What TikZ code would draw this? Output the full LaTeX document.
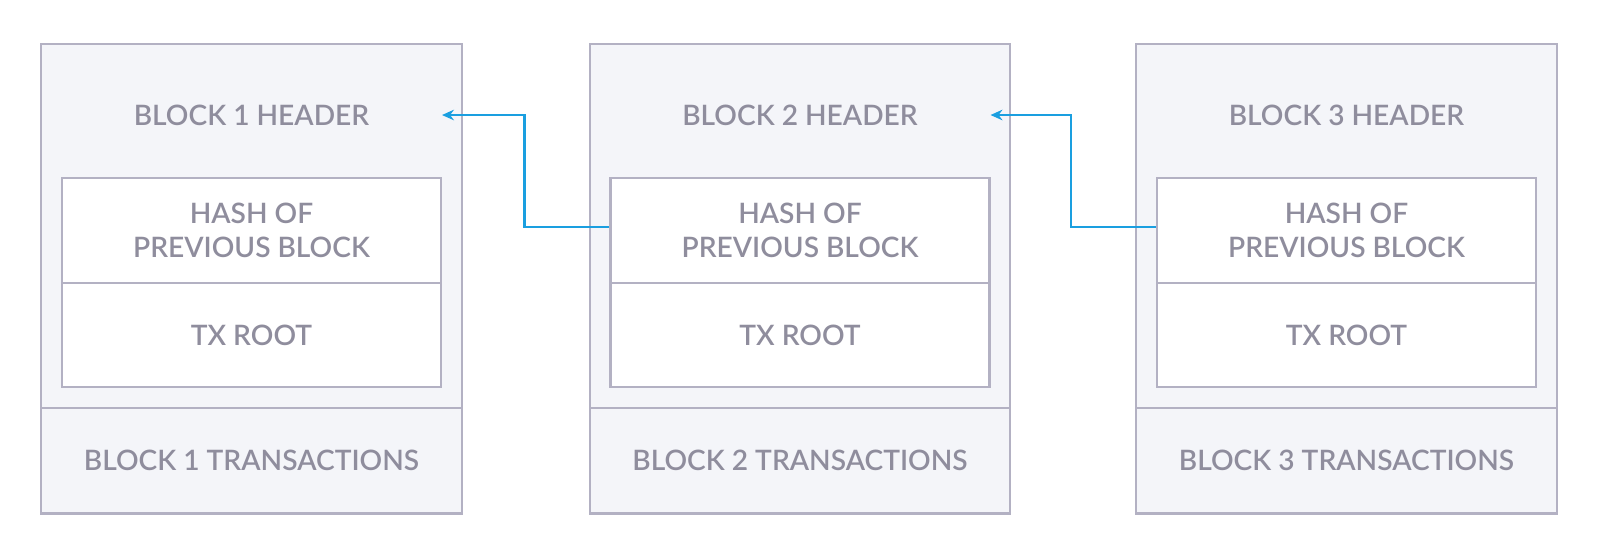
\documentclass[tikz,border=0pt]{standalone}
\usepackage{fontspec}
\setmainfont{Lato}
\newfontfamily\blkfont{Lato Semibold}
\usepackage{tikz}
\usetikzlibrary{positioning,arrows.meta}

\definecolor{blkfill}{HTML}{F4F5F9}
\definecolor{blkline}{HTML}{B3B1C3}
\definecolor{blktext}{HTML}{8F8D9D}
\definecolor{linkblue}{HTML}{1A9FE0}

\tikzset{
  blk/.style={draw=blkline, fill=blkfill, line width=0.6pt, minimum width=4.205cm, inner sep=0pt},
  cell/.style={draw=blkline, fill=white, line width=0.6pt, minimum width=3.787cm, inner sep=0pt, align=center},
  lbl/.style={text=blktext, font=\blkfont\fontsize{8}{9.5}\selectfont},
  link/.style={draw=linkblue, line width=0.6pt, -{Stealth[length=3.4pt,width=3pt]}}
}

\begin{document}
\begin{tikzpicture}[x=0.01cm,y=-0.01cm]
\useasboundingbox (0,0) rectangle (1608,553);

% block 1
\node[blk, minimum height=4.693cm] (blk1) at (251.5,278.7) {};
\node[blk, lbl, minimum height=1.05cm] (tx1) at (251.5,460.8) {BLOCK 1 TRANSACTIONS};
\node[lbl] (hdr1) at (251.5,115) {BLOCK 1 HEADER};
\node[cell, lbl, minimum height=1.053cm] (hash1) at (251.5,230.3) {HASH OF\\PREVIOUS BLOCK};
\node[cell, lbl, minimum height=1.04cm] (root1) at (251.5,335) {TX ROOT};

% block 2
\node[blk, minimum height=4.693cm] (blk2) at (800,278.7) {};
\node[blk, lbl, minimum height=1.05cm] (tx2) at (800,460.8) {BLOCK 2 TRANSACTIONS};
\node[lbl] (hdr2) at (800,115) {BLOCK 2 HEADER};
\node[cell, lbl, minimum height=1.053cm] (hash2) at (800,230.3) {HASH OF\\PREVIOUS BLOCK};
\node[cell, lbl, minimum height=1.04cm] (root2) at (800,335) {TX ROOT};

% block 3
\node[blk, minimum height=4.693cm] (blk3) at (1346.5,278.7) {};
\node[blk, lbl, minimum height=1.05cm] (tx3) at (1346.5,460.8) {BLOCK 3 TRANSACTIONS};
\node[lbl] (hdr3) at (1346.5,115) {BLOCK 3 HEADER};
\node[cell, lbl, minimum height=1.053cm] (hash3) at (1346.5,230.3) {HASH OF\\PREVIOUS BLOCK};
\node[cell, lbl, minimum height=1.04cm] (root3) at (1346.5,335) {TX ROOT};

% links back to the previous header
\draw[link] ([yshift=1pt]hash2.west) -- ++(-85,0) |- (hash1.east |- hdr1);
\draw[link] ([yshift=1pt]hash3.west) -- ++(-85,0) |- (hash2.east |- hdr2);
\end{tikzpicture}
\end{document}
